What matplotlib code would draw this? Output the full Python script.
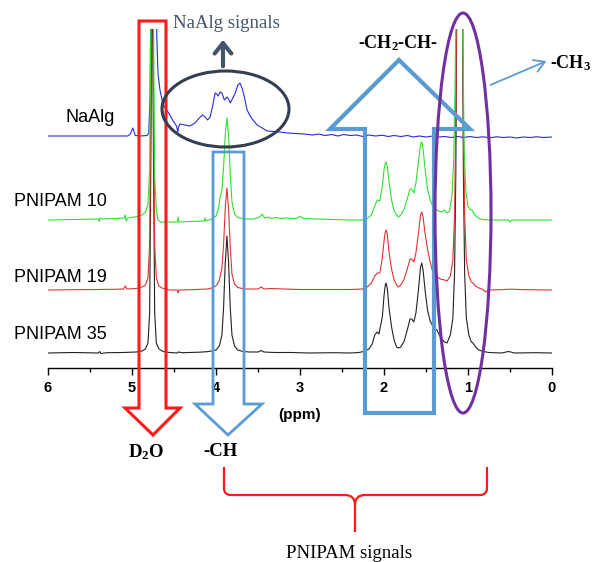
import matplotlib
matplotlib.use("Agg")
import matplotlib.pyplot as plt
import numpy as np
from matplotlib.patches import Ellipse, FancyArrowPatch, PathPatch, Polygon
from matplotlib.path import Path

# 1H NMR traces: (ppm, intensity above own baseline)
naalg = [
    (6.00, 0), (5.50, 0), (5.05, 0), (5.02, 2), (4.99, 8), (4.975, 4), (4.96, 0.5),
    (4.90, 0), (4.82, 0.5), (4.80, 3), (4.785, 40), (4.77, 200), (4.74, 260),
    (4.72, 200), (4.705, 100), (4.69, 62), (4.667, 46), (4.63, 31), (4.58, 25),
    (4.55, 21), (4.51, 15), (4.47, 10), (4.455, 4), (4.445, 9), (4.43, 12),
    (4.37, 11), (4.31, 10), (4.25, 13), (4.20, 18), (4.16, 21), (4.13, 19),
    (4.10, 16), (4.07, 19), (4.04, 30), (4.01, 43), (3.99, 42), (3.975, 40),
    (3.95, 44), (3.93, 43), (3.90, 36), (3.87, 39), (3.85, 37), (3.83, 33),
    (3.80, 38), (3.77, 43), (3.74, 51), (3.715, 53), (3.69, 48), (3.665, 40),
    (3.63, 26), (3.60, 21), (3.57, 17), (3.51, 11), (3.45, 8), (3.39, 5),
    (3.30, 4.5), (3.24, 4), (3.15, 3), (3.05, 2.5), (2.95, 2), (2.85, 1),
    (2.78, 2), (2.70, 0.5), (2.62, 1.5), (2.55, 0), (2.48, 1.5), (2.40, 0.5),
    (2.33, 1), (2.25, -0.5), (2.18, 1), (2.10, 0), (2.02, 0.8), (1.95, -0.5),
    (1.88, 0.5), (1.80, -0.5), (1.72, 0.5), (1.65, -1), (1.58, 0), (1.50, -1),
    (1.42, 0), (1.35, -1), (1.28, -0.5), (1.20, -1.5), (1.12, -0.5), (1.05, -1.5),
    (0.98, -0.5), (0.90, -1.5), (0.82, -0.8), (0.74, -1.8), (0.66, -0.8),
    (0.58, -1.5), (0.50, -1), (0.42, -2), (0.34, -1), (0.26, -1.5), (0.18, -0.8),
    (0.10, -1.5), (0.00, -1),
]

pnipam10 = [
    (6.00, 0), (5.70, 0.5), (5.40, 1), (5.39, -1.5), (5.38, 2), (5.36, 1),
    (5.20, 1.5), (5.09, 2), (5.08, 5), (5.07, -1), (5.05, 2), (4.97, 3),
    (4.92, 4), (4.88, 5), (4.84, 8), (4.81, 16), (4.79, 50), (4.775, 210),
    (4.76, 430), (4.745, 210), (4.73, 45), (4.71, 10), (4.69, 0), (4.66, -2),
    (4.55, -2), (4.46, -2), (4.45, 3), (4.44, -2), (4.30, -1.5), (4.14, -1),
    (4.13, 2), (4.12, -1), (4.05, 1), (4.00, 4), (3.97, 12), (3.95, 23),
    (3.93, 30), (3.91, 52), (3.89, 85), (3.87, 102), (3.85, 85), (3.83, 45),
    (3.81, 18), (3.78, 6), (3.74, 2.5), (3.66, 1), (3.55, 1), (3.48, 3),
    (3.45, 6), (3.42, 2), (3.38, 3), (3.34, 1.5), (3.30, 2.5), (3.22, 1.5),
    (3.18, 2), (3.05, 1.5), (3.00, 3.5), (2.96, 1.5), (2.80, 1), (2.60, 0.5),
    (2.40, 0), (2.25, 0), (2.19, 2), (2.15, 5), (2.11, 14), (2.08, 20),
    (2.05, 19), (2.02, 34), (2.00, 50), (1.985, 57), (1.975, 58), (1.96, 53),
    (1.94, 38), (1.91, 20), (1.88, 9), (1.85, 5), (1.83, 3), (1.80, 5),
    (1.76, 11), (1.72, 22), (1.69, 31), (1.67, 31), (1.645, 27), (1.62, 37),
    (1.59, 58), (1.565, 76), (1.55, 78), (1.535, 71), (1.51, 50), (1.48, 30),
    (1.45, 20), (1.42, 14), (1.39, 11), (1.35, 9), (1.31, 8), (1.28, 10),
    (1.25, 7), (1.22, 9), (1.19, 25), (1.17, 60), (1.155, 130), (1.14, 230),
    (1.10, 520), (1.07, 300), (1.06, 170), (1.045, 70), (1.025, 28), (1.00, 14),
    (0.97, 10), (0.95, 10), (0.92, 5), (0.88, 2), (0.83, 0.5), (0.70, 0),
    (0.52, 0), (0.50, -2), (0.48, 0), (0.20, 0), (0.00, 0),
]

pnipam19 = [
    (6.00, 0), (5.70, 0.3), (5.40, 0.5), (5.20, 0.7), (5.10, 1), (5.08, 4),
    (5.06, 1), (4.95, 1.5), (4.88, 3), (4.84, 5), (4.81, 12), (4.79, 45),
    (4.775, 200), (4.76, 420), (4.745, 200), (4.73, 45), (4.71, 12), (4.68, 4),
    (4.63, 1.5), (4.55, 0), (4.46, 0), (4.45, -3), (4.44, 0), (4.30, 0.3),
    (4.10, 1), (4.03, 2.5), (3.99, 5), (3.96, 10), (3.93, 22), (3.91, 45),
    (3.89, 82), (3.87, 102), (3.85, 80), (3.83, 42), (3.81, 16), (3.78, 6),
    (3.74, 2.5), (3.66, 1), (3.50, 1), (3.46, 3), (3.43, 1), (3.35, 1.5),
    (3.20, 1), (3.00, 0.5), (2.70, 0.5), (2.40, 0.5), (2.26, 1), (2.20, 3),
    (2.15, 7), (2.11, 14), (2.08, 17), (2.05, 17), (2.02, 32), (2.00, 49),
    (1.985, 58), (1.975, 60), (1.96, 55), (1.94, 38), (1.91, 21), (1.88, 10),
    (1.85, 5), (1.83, 3), (1.80, 5), (1.76, 11), (1.72, 22), (1.69, 31),
    (1.67, 31), (1.645, 28), (1.62, 37), (1.59, 57), (1.565, 75), (1.55, 78),
    (1.535, 73), (1.51, 56), (1.48, 40), (1.45, 28), (1.42, 18), (1.38, 14),
    (1.33, 11), (1.28, 10), (1.25, 9), (1.21, 14), (1.18, 30),
    (1.16, 75), (1.145, 170), (1.135, 300), (1.10, 560), (1.065, 300),
    (1.055, 170), (1.04, 75), (1.02, 30), (0.99, 14), (0.96, 8), (0.94, 7),
    (0.91, 4), (0.87, 2), (0.82, 0.5), (0.79, -2), (0.76, 0), (0.60, 0.3),
    (0.50, 0.8), (0.30, 0.3), (0.00, 0),
]

pnipam35 = [
    (6.00, 0), (5.70, 0.5), (5.40, 0), (5.385, 1.5), (5.37, -0.5), (5.30, 0.3),
    (5.10, 0.5), (4.95, 1), (4.88, 2), (4.84, 4), (4.81, 10), (4.79, 40),
    (4.775, 200), (4.76, 420), (4.745, 200), (4.73, 40), (4.71, 10), (4.68, 4),
    (4.63, 1.5), (4.55, 0.5), (4.46, 0), (4.45, 1), (4.40, 0.3), (4.20, 0.8),
    (4.12, 1.2), (4.05, 2), (4.00, 3), (3.96, 7), (3.93, 18), (3.91, 45),
    (3.89, 90), (3.87, 117), (3.85, 90), (3.83, 45), (3.81, 18), (3.78, 7),
    (3.74, 3), (3.68, 1.5), (3.60, 1), (3.50, 1), (3.46, 2.5), (3.43, 1),
    (3.30, 0.5), (3.10, 0.5), (2.90, 0), (2.60, 0.3), (2.40, 0), (2.30, 0.5),
    (2.24, 1.5), (2.18, 4), (2.14, 9), (2.11, 18), (2.08, 21), (2.06, 19),
    (2.02, 36), (2.00, 57), (1.985, 68), (1.975, 70), (1.96, 64), (1.94, 45),
    (1.91, 26), (1.88, 13), (1.85, 6), (1.83, 5), (1.80, 6), (1.76, 12),
    (1.72, 24), (1.69, 34), (1.67, 34), (1.645, 31), (1.62, 40), (1.59, 63),
    (1.565, 86), (1.55, 90), (1.535, 83), (1.51, 62), (1.48, 42), (1.45, 32),
    (1.42, 27), (1.39, 24), (1.37, 23), (1.33, 16), (1.28, 11),
    (1.25, 10), (1.21, 18), (1.18, 35), (1.16, 80), (1.145, 180), (1.135, 330),
    (1.10, 620), (1.065, 330), (1.055, 180), (1.04, 80), (1.02, 35), (0.99, 18),
    (0.96, 11), (0.94, 10), (0.91, 6), (0.87, 3), (0.82, 1.5), (0.75, 0.5),
    (0.60, 0), (0.52, 1.5), (0.49, 1), (0.45, 0), (0.20, 0.3), (0.00, 0),
]

trace_names = ["NaAlg", "PNIPAM 10", "PNIPAM 19", "PNIPAM 35"]
ppm_ticks = [6, 5, 4, 3, 2, 1, 0]

# layout (figure pixels, 593 x 562 canvas)
W, H = 593, 562
offsets = [232, 148, 78, 15]          # baseline heights above the axis line
colors = ["#2a2ad8", "#2ee02e", "#e03232", "#222222"]
label_pos = [(90, 122.5, "center"), (14, 206.5, "left"), (14, 281.5, "left"), (14, 339, "left")]

plt.rcParams["mathtext.fontset"] = "custom"
plt.rcParams["mathtext.rm"] = "Liberation Serif:bold"
plt.rcParams["mathtext.it"] = "Liberation Serif:bold"
plt.rcParams["mathtext.bf"] = "Liberation Serif:bold"

fig = plt.figure(figsize=(W / 100, H / 100), dpi=100)
ax = fig.add_axes([48 / W, 1 - 368 / H, 504 / W, 339 / H])

traces = [naalg, pnipam10, pnipam19, pnipam35]
for idx in [0, 3, 2, 1]:
    arr = np.array(traces[idx])
    ax.plot(arr[:, 0], arr[:, 1] + offsets[idx], color=colors[idx], lw=0.8)

ax.set_xlim(6, 0)
ax.set_ylim(0, 339)
for side in ["top", "left", "right"]:
    ax.spines[side].set_visible(False)
ax.spines["bottom"].set_linewidth(1.0)
ax.set_yticks([])
ax.set_xticks(ppm_ticks)
ax.set_xticks(np.arange(0.5, 6, 1.0), minor=True)
ax.tick_params(axis="x", which="major", direction="out", length=5, width=1, pad=4)
ax.tick_params(axis="x", which="minor", direction="out", length=3, width=1)
for lab in ax.get_xticklabels():
    lab.set_fontfamily("Liberation Sans")
    lab.set_fontweight("bold")
    lab.set_fontsize(10.5)

# overlay in pixel coordinates for the hand-drawn annotations
ov = fig.add_axes([0, 0, 1, 1])
ov.set_xlim(0, W)
ov.set_ylim(H, 0)
ov.axis("off")
ov.patch.set_alpha(0)

for name, (lx, ly, ha) in zip(trace_names, label_pos):
    ov.text(lx, ly, name, ha=ha, va="baseline", fontsize=13, family="Liberation Sans")

ov.text(300, 415, "(ppm)", ha="center", va="center", fontsize=11,
        family="Liberation Sans", fontweight="bold")

red = "#ff1a1a"
blue = "#5b9bd5"
purple = "#7030a0"
slate = "#333f50"

ov.add_patch(Polygon([(139, 21), (166, 21), (166, 408), (180, 408), (153, 435),
                      (125, 408), (139, 408)], closed=True, fill=False,
                     ec=red, lw=2.2, joinstyle="miter"))
ov.add_patch(Polygon([(213, 152), (244, 152), (244, 404), (262, 404), (228, 435),
                      (195, 404), (213, 404)], closed=True, fill=False,
                     ec=blue, lw=2.0, joinstyle="miter"))
ov.add_patch(Polygon([(365, 413), (434, 413), (434, 129), (470, 129), (399, 60),
                      (330, 129), (365, 129)], closed=True, fill=False,
                     ec=blue, lw=3.0, joinstyle="miter"))
ov.add_patch(Ellipse((463, 213), 56, 400, fill=False, ec=purple, lw=2.2))
ov.add_patch(Ellipse((225.5, 109), 127, 76, fill=False, ec=slate, lw=2.2))

ov.add_patch(FancyArrowPatch((223, 69), (223, 37), arrowstyle="->,head_length=5,head_width=4",
                             color="#44546a", lw=3, mutation_scale=1.5))
ov.add_patch(FancyArrowPatch((488, 86), (549, 60), arrowstyle="->,head_length=5,head_width=3",
                             color=blue, lw=1.3, mutation_scale=1.5))

brace = Path(
    [(224, 467), (224, 488), (224, 495), (231, 495), (345, 495), (355, 495), (355, 505),
     (355, 532),
     (487, 467), (487, 488), (487, 495), (480, 495), (365, 495), (355, 495), (355, 505)],
    [Path.MOVETO, Path.LINETO, Path.CURVE3, Path.CURVE3, Path.LINETO, Path.CURVE3, Path.CURVE3,
     Path.LINETO,
     Path.MOVETO, Path.LINETO, Path.CURVE3, Path.CURVE3, Path.LINETO, Path.CURVE3, Path.CURVE3],
)
ov.add_patch(PathPatch(brace, fill=False, ec=red, lw=1.6))

ov.text(226, 23, "NaAlg signals", ha="center", va="center", fontsize=13.5,
        family="Liberation Serif", color="#44546a")
ov.text(398, 43, "-CH$_2$-CH-", ha="center", va="center", fontsize=13,
        family="Liberation Serif", fontweight="bold")
ov.text(550, 63, "-CH$_3$", ha="left", va="center", fontsize=13,
        family="Liberation Serif", fontweight="bold")
ov.text(146, 452, "D$_2$O", ha="center", va="center", fontsize=13.5,
        family="Liberation Serif", fontweight="bold")
ov.text(221, 452, "-CH", ha="center", va="center", fontsize=13.5,
        family="Liberation Serif", fontweight="bold")
ov.text(349, 553, "PNIPAM signals", ha="center", va="center", fontsize=13.5,
        family="Liberation Serif")

fig.savefig("out.png", dpi=100)
